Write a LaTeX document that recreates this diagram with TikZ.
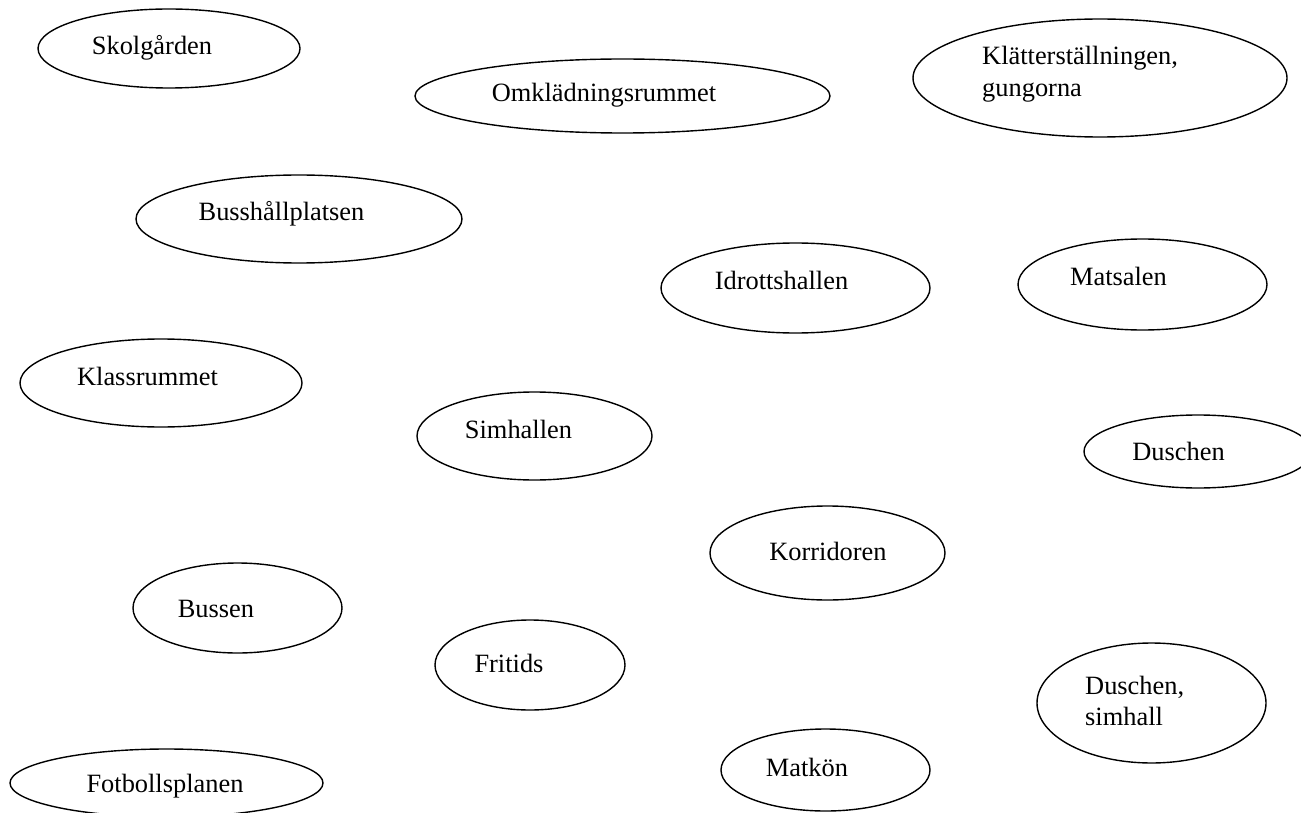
\documentclass[tikz,border=0pt]{standalone}
\usepackage{fontspec}
\setmainfont{Liberation Serif}
\usetikzlibrary{shapes.geometric}
\tikzset{
  place/.style={draw=black, line width=1.4pt, ellipse, inner sep=0pt},
  lbl/.style={anchor=base, inner sep=0pt, font=\fontsize{26.4}{31.5}\selectfont},
  lbll/.style={anchor=base west, inner sep=0pt, font=\fontsize{26.4}{31.5}\selectfont}
}
\newcommand{\twolines}[2]{\begin{tabular}[t]{@{}l@{}}#1\\#2\end{tabular}}
\begin{document}
\begin{tikzpicture}[x=1pt,y=-1pt]
\useasboundingbox (0,0) rectangle (1301,813);
% ellipses
\node[place, minimum width=262pt, minimum height=79pt] (e1) at (169,48.5) {};
\node[place, minimum width=415pt, minimum height=74pt] (e2) at (622.5,96) {};
\node[place, minimum width=374pt, minimum height=118pt] (e3) at (1100,78) {};
\node[place, minimum width=326pt, minimum height=88pt] (e4) at (299,219) {};
\node[place, minimum width=269pt, minimum height=90pt] (e5) at (795.5,288) {};
\node[place, minimum width=249pt, minimum height=91pt] (e6) at (1142.5,284.5) {};
\node[place, minimum width=282pt, minimum height=88pt] (e7) at (161,383) {};
\node[place, minimum width=235pt, minimum height=88pt] (e8) at (534.5,436) {};
\node[place, minimum width=228pt, minimum height=73pt] (e9) at (1198,451.5) {};
\node[place, minimum width=235pt, minimum height=94pt] (e10) at (827.5,553) {};
\node[place, minimum width=209pt, minimum height=90pt] (e11) at (237.5,608) {};
\node[place, minimum width=190pt, minimum height=90pt] (e12) at (530,665) {};
\node[place, minimum width=229pt, minimum height=120pt] (e13) at (1151.5,703) {};
\node[place, minimum width=313pt, minimum height=68pt] (e14) at (166.5,783) {};
\node[place, minimum width=209pt, minimum height=82pt] (e15) at (825.5,770) {};
% labels
\node[lbl] (t1) at (152,55) {Skolgården};
\node[lbl] (t2) at (604,102) {Omklädningsrummet};
\node[lbll] (t3) at (982,65) {\twolines{Klätterställningen,}{gungorna}};
\node[lbl] (t4) at (281.5,221) {Busshållplatsen};
\node[lbl] (t5) at (781.5,289) {Idrottshallen};
\node[lbl] (t6) at (1118.5,285) {Matsalen};
\node[lbl] (t7) at (147.5,385) {Klassrummet};
\node[lbl] (t8) at (518.5,438) {Simhallen};
\node[lbl] (t9) at (1178.5,460) {Duschen};
\node[lbl] (t10) at (828,560) {Korridoren};
\node[lbl] (t11) at (216,617) {Bussen};
\node[lbl] (t12) at (509,672) {Fritids};
\node[lbll] (t13) at (1085,694) {\twolines{Duschen,}{simhall}};
\node[lbl] (t14) at (165,792) {Fotbollsplanen};
\node[lbl] (t15) at (807,776) {Matkön};
\end{tikzpicture}
\end{document}
